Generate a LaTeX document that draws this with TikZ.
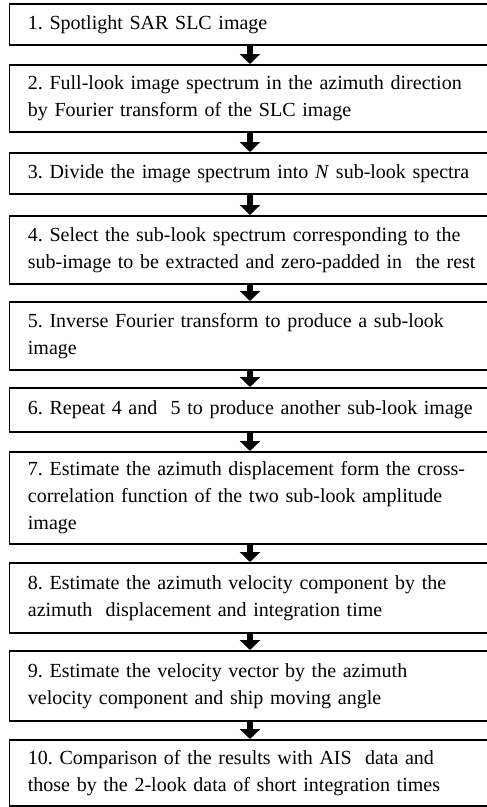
\documentclass[tikz,border=0pt]{standalone}
\usepackage{fontspec}
\setmainfont{Liberation Serif}
\usetikzlibrary{arrows.meta}

\tikzset{
  stepbox/.style={draw=black, line width=1.8pt, fill=white, rectangle,
    anchor=north west, inner xsep=18.5pt, inner ysep=0pt,
    text width=470pt, align=left,
    font=\fontsize{20}{27}\selectfont\frenchspacing},
  flowarrow/.style={line width=6pt, -{Triangle[width=20pt,length=10pt]}}
}

\begin{document}
\begin{tikzpicture}[x=1pt,y=-1pt]
  \clip (0,0) rectangle (487,807);
  \fill[white] (0,0) rectangle (487,807);

  % processing steps, top to bottom
  \node[stepbox, minimum height=41pt] (b1) at (8.5,3)
    {1. Spotlight SAR SLC image};
  \node[stepbox, minimum height=67pt] (b2) at (8.5,64)
    {2. Full-look image spectrum in the azimuth direction\\
     by Fourier transform of the SLC image};
  \node[stepbox, minimum height=41pt] (b3) at (8.5,152)
    {3. Divide the image spectrum into \textit{N} sub-look spectra};
  \node[stepbox, minimum height=68pt] (b4) at (8.5,215)
    {4. Select the sub-look spectrum corresponding to the\\
     sub-image to be extracted and zero-padded in\ \ the rest};
  \node[stepbox, minimum height=68pt] (b5) at (8.5,301)
    {5. Inverse Fourier transform to produce a sub-look\\
     image};
  \node[stepbox, minimum height=44pt] (b6) at (8.5,387)
    {6. Repeat 4 and\ \ 5 to produce another sub-look image};
  \node[stepbox, minimum height=92pt] (b7) at (8.5,451)
    {7. Estimate the azimuth displacement form the cross-\\
     correlation function of the two sub-look amplitude\\
     image};
  \node[stepbox, minimum height=70pt] (b8) at (8.5,562)
    {8. Estimate the azimuth velocity component by the\\
     azimuth\ \ displacement and integration time};
  \node[stepbox, minimum height=70pt] (b9) at (8.5,650)
    {9. Estimate the velocity vector by the azimuth\\
     velocity component and ship moving angle};
  \node[stepbox, minimum height=66pt] (b10) at (8.5,739)
    {10. Comparison of the results with AIS\ \ data and\\
     those by the 2-look data of short integration times};

  % downward arrows between consecutive steps
  \foreach \a/\b in {b1/b2,b2/b3,b3/b4,b4/b5,b5/b6,b6/b7,b7/b8,b8/b9,b9/b10}
    \draw[flowarrow] ([xshift=241.5pt]\a.south west) -- ([xshift=241.5pt]\b.north west);
\end{tikzpicture}
\end{document}
